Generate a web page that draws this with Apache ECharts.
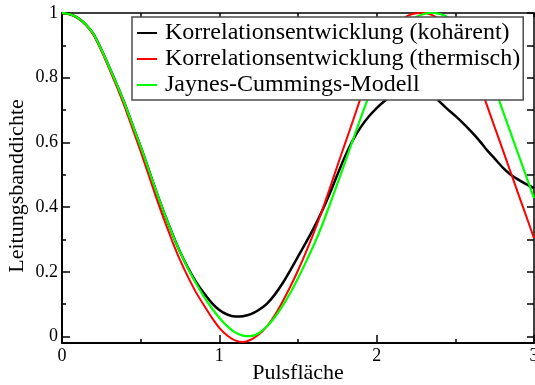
<!DOCTYPE html>
<html>
<head>
<meta charset="utf-8">
<script src="https://cdn.jsdelivr.net/npm/echarts@6/dist/echarts.min.js"></script>
<style>
  html, body { margin: 0; padding: 0; background: #ffffff; }
  #chart { width: 535px; height: 385px; }
</style>
</head>
<body>
<div id="chart"></div>
<script>
// Pulse area (x) sample points
const pulsflaeche = [
  0.00, 0.05, 0.10, 0.15, 0.20, 0.25, 0.30, 0.35, 0.40, 0.45,
  0.50, 0.55, 0.60, 0.65, 0.70, 0.75, 0.80, 0.85, 0.90, 0.95,
  1.00, 1.05, 1.10, 1.15, 1.20, 1.25, 1.30, 1.35, 1.40, 1.45,
  1.50, 1.55, 1.60, 1.65, 1.70, 1.75, 1.80, 1.85, 1.90, 1.95,
  2.00, 2.05, 2.10, 2.15, 2.20, 2.25, 2.30, 2.35, 2.40, 2.45,
  2.50, 2.55, 2.60, 2.65, 2.70, 2.75, 2.80, 2.85, 2.90, 2.95,
  3.00
];

// Correlation expansion, coherent field
const kohaerent = [
  1.000, 0.996, 0.985, 0.965, 0.935, 0.887, 0.833, 0.777, 0.718, 0.652,
  0.587, 0.517, 0.447, 0.381, 0.319, 0.262, 0.213, 0.170, 0.135, 0.105,
  0.082, 0.068, 0.062, 0.063, 0.069, 0.082, 0.100, 0.128, 0.163, 0.204,
  0.247, 0.290, 0.335, 0.385, 0.440, 0.500, 0.558, 0.608, 0.648, 0.680,
  0.706, 0.728, 0.747, 0.762, 0.771, 0.774, 0.768, 0.752, 0.726, 0.703,
  0.682, 0.659, 0.634, 0.607, 0.577, 0.550, 0.523, 0.501, 0.485, 0.471,
  0.459
];

// Correlation expansion, thermal field
const thermisch = [
  1.000, 0.996, 0.985, 0.964, 0.933, 0.884, 0.828, 0.770, 0.708, 0.640,
  0.572, 0.500, 0.428, 0.360, 0.296, 0.237, 0.185, 0.138, 0.098, 0.060,
  0.027, 0.003, -0.012, -0.017, -0.010, 0.006, 0.030, 0.064, 0.106, 0.153,
  0.204, 0.260, 0.320, 0.385, 0.455, 0.527, 0.598, 0.668, 0.740, 0.805,
  0.860, 0.908, 0.947, 0.975, 0.992, 0.999, 1.000, 0.994, 0.980, 0.958,
  0.928, 0.888, 0.840, 0.784, 0.716, 0.647, 0.579, 0.510, 0.441, 0.373,
  0.304
];

// Jaynes-Cummings model
const jaynesCummings = [
  1.000, 0.996, 0.985, 0.965, 0.935, 0.887, 0.833, 0.777, 0.718, 0.652,
  0.587, 0.517, 0.447, 0.381, 0.319, 0.262, 0.211, 0.166, 0.125, 0.089,
  0.058, 0.032, 0.013, 0.003, 0.001, 0.010, 0.030, 0.058, 0.093, 0.134,
  0.180, 0.230, 0.282, 0.340, 0.405, 0.472, 0.540, 0.609, 0.677, 0.743,
  0.803, 0.857, 0.902, 0.940, 0.968, 0.987, 0.997, 1.000, 0.997, 0.988,
  0.971, 0.946, 0.913, 0.875, 0.830, 0.770, 0.700, 0.632, 0.564, 0.496,
  0.428
];

const seriesNames = [
  'Korrelationsentwicklung (kohärent)',
  'Korrelationsentwicklung (thermisch)',
  'Jaynes-Cummings-Modell'
];
const seriesColors = ['#000000', '#ff0000', '#00ff00'];
const seriesWidths = [2.5, 2, 2.2];

// Axis ticks
const xTickValues = [0, 1, 2, 3];
const yMajorTicks = [0, 0.2, 0.4, 0.6, 0.8, 1];
const yMinorTicks = [0.1, 0.3, 0.5, 0.7, 0.9];
const yRightTicks = [0, 0.1, 0.2, 0.3, 0.4, 0.5, 0.6, 0.7, 0.8, 0.9, 1];

const serif = 'Liberation Serif';
const yMin = -0.02, yMax = 1;

function pairs(ys) {
  return pulsflaeche.map((x, i) => [x, ys[i]]);
}

const chart = echarts.init(document.getElementById('chart'), null, { renderer: 'canvas' });

chart.setOption({
  animation: false,
  backgroundColor: '#ffffff',
  textStyle: { fontFamily: serif, color: '#000' },
  grid: { left: 62, right: 1, top: 13, bottom: 42, containLabel: false, outerBoundsMode: 'none' },
  legend: {
    orient: 'vertical',
    left: 132,
    top: 17,
    z: 20,
    padding: [4, 3, 3, 5],
    itemGap: 2,
    itemWidth: 20,
    itemHeight: 2,
    icon: 'rect',
    backgroundColor: '#ffffff',
    borderColor: '#4d4d4d',
    borderWidth: 1.5,
    borderRadius: 0,
    textStyle: { fontFamily: serif, fontSize: 24, color: '#000', padding: [0, 0, 0, 3] },
    data: seriesNames
  },
  xAxis: [
    {
      type: 'value', position: 'bottom', min: 0, max: 3, interval: 1,
      name: 'Pulsfläche', nameLocation: 'middle', nameGap: 19, nameMoveOverlap: false,
      nameTextStyle: { fontFamily: serif, fontSize: 22, color: '#000' },
      axisLine: { show: true, onZero: false, lineStyle: { color: '#000', width: 2 } },
      axisTick: { show: true, inside: true, length: 8, lineStyle: { color: '#000', width: 1.5 } },
      minorTick: { show: true, splitNumber: 2, length: 4, lineStyle: { color: '#000', width: 1.5 } },
      axisLabel: {
        show: true, margin: 4, fontFamily: serif, fontSize: 18, color: '#000',
        customValues: xTickValues, formatter: v => String(v)
      },
      splitLine: { show: false }
    },
    {
      type: 'value', position: 'top', min: 0, max: 3, interval: 0.5,
      axisLine: { show: true, onZero: false, lineStyle: { color: '#000', width: 1.5 } },
      axisTick: { show: true, inside: true, length: 4, lineStyle: { color: '#000', width: 1.5 } },
      axisLabel: { show: false },
      splitLine: { show: false }
    }
  ],
  yAxis: [
    {
      type: 'value', position: 'left', min: yMin, max: yMax,
      name: 'Leitungsbanddichte', nameLocation: 'middle', nameGap: 34, nameRotate: 90,
      nameMoveOverlap: false,
      nameTextStyle: { fontFamily: serif, fontSize: 22, color: '#000', padding: [0, 16, 0, 0] },
      axisLine: { show: true, onZero: false, lineStyle: { color: '#000', width: 2 } },
      axisTick: { show: true, inside: true, length: 8, customValues: yMajorTicks, lineStyle: { color: '#000', width: 1.5 } },
      axisLabel: {
        show: true, margin: 4, fontFamily: serif, fontSize: 18, color: '#000',
        customValues: yMajorTicks, formatter: v => String(+(+v).toFixed(1))
      },
      splitLine: { show: false }
    },
    {
      type: 'value', position: 'left', min: yMin, max: yMax,
      axisLine: { show: false },
      axisTick: { show: true, inside: true, length: 4, customValues: yMinorTicks, lineStyle: { color: '#000', width: 1.5 } },
      axisLabel: { show: false },
      splitLine: { show: false }
    },
    {
      type: 'value', position: 'right', min: yMin, max: yMax,
      axisLine: { show: true, onZero: false, lineStyle: { color: '#000', width: 1.5 } },
      axisTick: { show: true, inside: true, length: 7, customValues: yRightTicks, lineStyle: { color: '#000', width: 1.5 } },
      axisLabel: { show: false },
      splitLine: { show: false }
    }
  ],
  series: [kohaerent, thermisch, jaynesCummings].map((ys, i) => ({
    name: seriesNames[i],
    type: 'line',
    xAxisIndex: 0,
    yAxisIndex: 0,
    data: pairs(ys),
    showSymbol: false,
    smooth: 0.2,
    color: seriesColors[i],
    lineStyle: { color: seriesColors[i], width: seriesWidths[i] },
    z: 2
  }))
});
</script>
</body>
</html>
